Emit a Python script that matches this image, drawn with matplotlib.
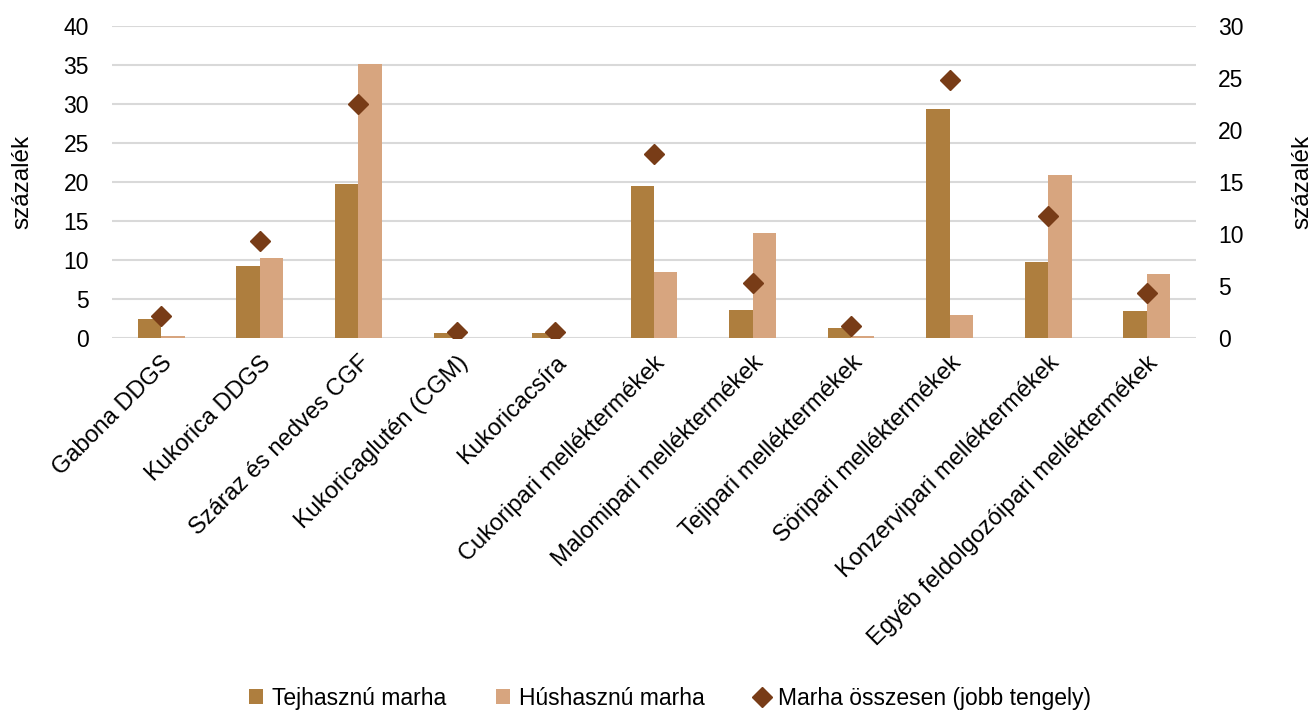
import matplotlib.pyplot as plt
import numpy as np

plt.rcParams['font.family'] = ['Liberation Sans', 'DejaVu Sans']

categories = [
    "Gabona DDGS",
    "Kukorica DDGS",
    "Száraz és nedves CGF",
    "Kukoricaglutén (CGM)",
    "Kukoricacsíra",
    "Cukoripari melléktermékek",
    "Malomipari melléktermékek",
    "Tejipari melléktermékek",
    "Söripari melléktermékek",
    "Konzervipari melléktermékek",
    "Egyéb feldolgozóipari melléktermékek",
]
dairy = [2.5, 9.2, 19.8, 0.7, 0.7, 19.5, 3.6, 1.3, 29.3, 9.7, 3.4]
beef = [0.3, 10.3, 35.1, 0.0, 0.0, 8.4, 13.4, 0.3, 3.0, 20.9, 8.2]
total = [2.1, 9.3, 22.5, 0.6, 0.6, 17.7, 5.3, 1.2, 24.8, 11.7, 4.3]

left_ticks = [0, 5, 10, 15, 20, 25, 30, 35, 40]
right_ticks = [0, 5, 10, 15, 20, 25, 30]

DAIRY_COLOR = "#AE7E3E"
BEEF_COLOR = "#D7A57F"
TOTAL_COLOR = "#783C17"
GRID_COLOR = "#D9D9D9"
FS = 16.5

fig = plt.figure(figsize=(13.14, 7.11), dpi=100)
ax = fig.add_axes([0.0852, 0.5246, 0.8250, 0.4388])
ax2 = ax.twinx()

x = np.arange(len(categories))
w = 0.237
ax.bar(x - w / 2, dairy, w, color=DAIRY_COLOR, label="Tejhasznú marha", zorder=2)
ax.bar(x + w / 2, beef, w, color=BEEF_COLOR, label="Húshasznú marha", zorder=2)
ax2.plot(x, total, linestyle="none", marker="D", ms=10.2, color=TOTAL_COLOR,
         label="Marha összesen (jobb tengely)", zorder=3)

ax.set_xlim(-0.5, len(categories) - 0.5)
ax.set_ylim(0, 40)
ax2.set_ylim(0, 30)
ax.set_yticks(left_ticks)
ax2.set_yticks(right_ticks)
ax.yaxis.grid(True, color=GRID_COLOR, linewidth=1.5, zorder=0)
ax.set_axisbelow(True)

for a in (ax, ax2):
    for s in a.spines.values():
        s.set_visible(False)
    a.tick_params(axis="both", length=0, labelsize=FS)
ax.tick_params(axis="y", pad=16.5)
ax2.tick_params(axis="y", pad=16)

ax.set_xticks(x)
ax.set_xticklabels(categories, rotation=45, ha="right", rotation_mode="anchor",
                   fontsize=17)
ax.tick_params(axis="x", pad=10)

# y-axis titles sit centred on fixed positions either side of the plot
for a, xpos in ((ax, -0.083), (ax2, 1.098)):
    a.set_ylabel("százalék", fontsize=17.5)
    a.yaxis.label.set_va("center")
    a.yaxis.set_label_coords(xpos, 0.5)

h1, l1 = ax.get_legend_handles_labels()
h2, l2 = ax2.get_legend_handles_labels()
leg = fig.legend(h1 + h2, l1 + l2, loc="center", bbox_to_anchor=(0.51, 0.018),
                 ncol=3, frameon=False, fontsize=FS, handlelength=0.6,
                 handleheight=0.6, handletextpad=0.4, columnspacing=2.2)

fig.savefig("out.png", dpi=100)
